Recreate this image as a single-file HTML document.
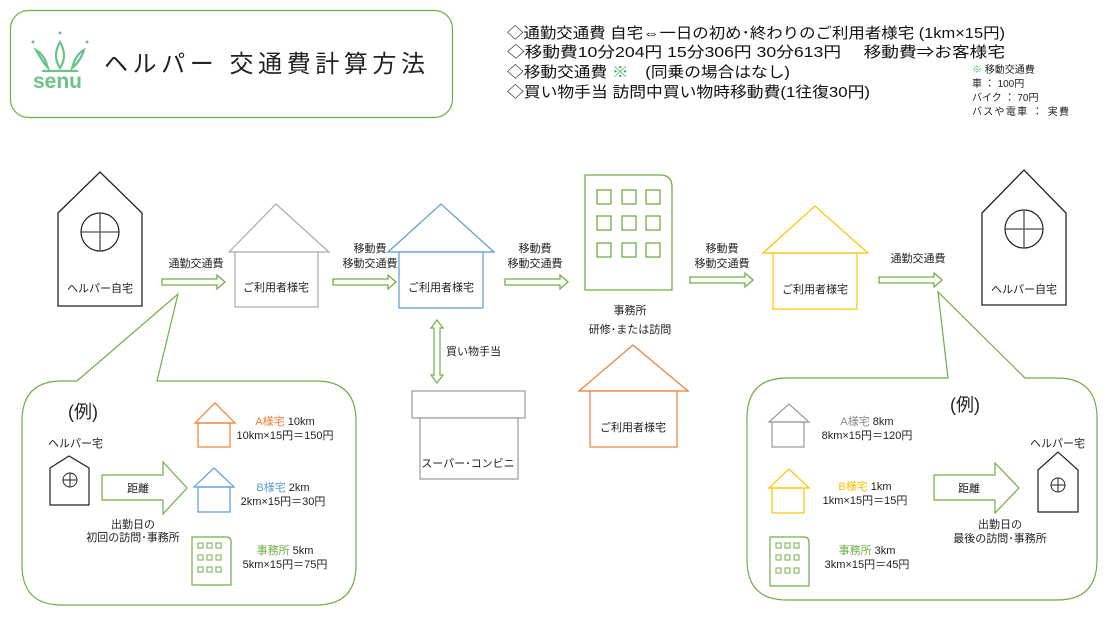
<!DOCTYPE html>
<html><head><meta charset="utf-8"><style>
html,body{margin:0;padding:0;background:#fff;}
svg{display:block;font-family:"Liberation Sans","Noto Sans CJK JP",sans-serif;}
</style></head><body>
<svg width="1115" height="621" viewBox="0 0 1115 621" xmlns="http://www.w3.org/2000/svg">
<defs>
<g id="arr"><path d="M0,-3 H55 V-7 L63,0 L55,7 V3 H0 Z" fill="#fff" stroke="#70ad47" stroke-width="1.3"/></g>
</defs>
<rect x="10.5" y="10.5" width="442" height="107" rx="18" fill="#fff" stroke="#70ad47" stroke-width="1.2"/>
<g stroke="#6cc38a" stroke-width="2.2" fill="none">
<path d="M36,50 Q44,64 48,68 Q44,54 36,50Z"/>
<path d="M60,42 Q52,56 60,68 Q68,56 60,42Z"/>
<path d="M84,50 Q76,54 72,68 Q80,62 84,50Z"/>
<path d="M42,71 H78"/>
</g>
<circle cx="33" cy="42" r="1.5" fill="#6cc38a"/><circle cx="60" cy="33" r="1.5" fill="#6cc38a"/><circle cx="87" cy="42" r="1.5" fill="#6cc38a"/>
<text x="33" y="88" font-size="21" fill="#6cc38a" font-weight="bold">senu</text>
<text x="104" y="72" font-size="24" fill="#222" textLength="321" lengthAdjust="spacing">ヘルパー 交通費計算方法</text>
<g font-size="15" fill="#111">
<text x="507" y="38" textLength="498" lengthAdjust="spacingAndGlyphs">◇通勤交通費 自宅⇔一日の初め･終わりのご利用者様宅 (1km×15円)</text>
<text x="507" y="57" textLength="498" lengthAdjust="spacingAndGlyphs">◇移動費10分204円 15分306円 30分613円　 移動費⇒お客様宅</text>
<text x="507" y="77" textLength="283" lengthAdjust="spacingAndGlyphs">◇移動交通費 <tspan fill="#2db34a">※</tspan>　(同乗の場合はなし)</text>
<text x="507" y="97" textLength="363" lengthAdjust="spacingAndGlyphs">◇買い物手当 訪問中買い物時移動費(1往復30円)</text>
</g>
<g font-size="10" fill="#222">
<text x="972" y="73"><tspan fill="#2db34a">※</tspan> 移動交通費</text>
<text x="972" y="87">車 ： 100円</text>
<text x="972" y="101">バイク ： 70円</text>
<text x="972" y="115" textLength="97">バスや電車 ： 実費</text>
</g>
<g font-size="11" fill="#222" text-anchor="middle">
<path d="M58,213 L100,172 L142,213 V306 H58 Z" fill="#fff" stroke="#222" stroke-width="1.3"/>
<circle cx="100" cy="232" r="19" fill="none" stroke="#222" stroke-width="1.2"/>
<path d="M81,232 H119" stroke="#222"/><path d="M100,213 V251" stroke="#666" stroke-width="1.5"/>
<text x="100" y="292">ヘルパー自宅</text>
<use href="#arr" x="162" y="282"/>
<text x="196" y="267">通勤交通費</text>
<path d="M229,252 L276,204 L329,252 Z" fill="#fff" stroke="#aaa" stroke-width="1.2"/>
<rect x="235" y="252" width="83" height="55" fill="#fff" stroke="#aaa" stroke-width="1.2"/>
<text x="276" y="291">ご利用者様宅</text>
<use href="#arr" x="333" y="282"/>
<text x="370" y="252">移動費</text><text x="370" y="267">移動交通費</text>
<path d="M388,252 L441,204 L494,252 Z" fill="#fff" stroke="#5b9bd5" stroke-width="1.2"/>
<rect x="399" y="252" width="84" height="56" fill="#fff" stroke="#5b9bd5" stroke-width="1.2"/>
<text x="441" y="291">ご利用者様宅</text>
<use href="#arr" x="505" y="282"/>
<text x="535" y="252">移動費</text><text x="535" y="267">移動交通費</text>
<path d="M585,175 H660 Q672,175 672,187 V290 H585 Z" fill="#fff" stroke="#70ad47" stroke-width="1.3"/>
<g fill="none" stroke="#70ad47" stroke-width="1.3">
<rect x="597" y="190" width="14" height="14"/><rect x="622" y="190" width="14" height="14"/><rect x="646" y="190" width="14" height="14"/>
<rect x="597" y="216" width="14" height="14"/><rect x="622" y="216" width="14" height="14"/><rect x="646" y="216" width="14" height="14"/>
<rect x="597" y="243" width="14" height="14"/><rect x="622" y="243" width="14" height="14"/><rect x="646" y="243" width="14" height="14"/>
</g>
<text x="630" y="314">事務所</text><text x="630" y="333">研修･または訪問</text>
<use href="#arr" x="690" y="280"/>
<text x="722" y="252">移動費</text><text x="722" y="267">移動交通費</text>
<path d="M763,253 L815,206 L868,253 Z" fill="#fff" stroke="#ffc000" stroke-width="1.2"/>
<rect x="773" y="253" width="84" height="56" fill="#fff" stroke="#ffc000" stroke-width="1.2"/>
<text x="815" y="293">ご利用者様宅</text>
<use href="#arr" x="879" y="280"/>
<text x="918" y="262">通勤交通費</text>
<path d="M982,213 L1024,170 L1066,213 V305 H982 Z" fill="#fff" stroke="#222" stroke-width="1.3"/>
<circle cx="1024" cy="229" r="19" fill="none" stroke="#222" stroke-width="1.2"/>
<path d="M1005,229 H1043" stroke="#222"/><path d="M1024,210 V248" stroke="#666" stroke-width="1.5"/>
<text x="1024" y="293">ヘルパー自宅</text>
<path d="M437,320 L443,328 H440 V375 H443 L437,383 L431,375 H434 V328 H431 Z" fill="#fff" stroke="#70ad47" stroke-width="1.2"/>
<text x="446" y="355" text-anchor="start">買い物手当</text>
<rect x="412" y="391" width="113" height="27" fill="#fff" stroke="#999" stroke-width="1.2"/>
<rect x="420" y="418" width="98" height="61" fill="#fff" stroke="#999" stroke-width="1.2"/>
<text x="468" y="467">スーパー･コンビニ</text>
<path d="M579,391 L633,345 L688,391 Z" fill="#fff" stroke="#ed7d31" stroke-width="1.2"/>
<rect x="590" y="391" width="87" height="56" fill="#fff" stroke="#ed7d31" stroke-width="1.2"/>
<text x="633" y="431">ご利用者様宅</text>
</g>
<path d="M62,381 H77 L178,294 L157,381 H316 Q356,381 356,421 V565 Q356,605 316,605 H62 Q22,605 22,565 V421 Q22,381 62,381 Z" fill="#fff" stroke="#70ad47" stroke-width="1.2"/>
<path d="M787,378 H948 L938,292 L1025,378 H1057 Q1097,378 1097,418 V560 Q1097,600 1057,600 H787 Q747,600 747,560 V418 Q747,378 787,378 Z" fill="#fff" stroke="#70ad47" stroke-width="1.2"/>
<g font-size="11" fill="#222">
<text x="68" y="418" font-size="18">(例)</text>
<text x="48" y="447">ヘルパー宅</text>
<path d="M50,468 L69,456 L89,468 V505 H50 Z" fill="#fff" stroke="#222" stroke-width="1.2"/>
<circle cx="70" cy="480" r="7" fill="none" stroke="#222"/><path d="M63,480 H77 M70,473 V487" stroke="#222"/>
<path d="M102,475 H163 V462 L187,488 L163,514 V500 H102 Z" fill="#fff" stroke="#70ad47" stroke-width="1.2"/>
<text x="127" y="492">距離</text>
<text x="133" y="528" text-anchor="middle">出勤日の</text>
<text x="133" y="541" text-anchor="middle">初回の訪問･事務所</text>
<path d="M195,423 L215,403 L235,423 Z" fill="#fff" stroke="#ed7d31" stroke-width="1.2"/>
<rect x="198" y="423" width="32" height="24" fill="none" stroke="#ed7d31" stroke-width="1.2"/>
<text x="285" y="425" text-anchor="middle"><tspan fill="#ed7d31">A様宅</tspan> 10km</text>
<text x="285" y="439" text-anchor="middle">10km×15円＝150円</text>
<path d="M194,487 L214,468 L234,487 Z" fill="#fff" stroke="#5b9bd5" stroke-width="1.2"/>
<rect x="198" y="487" width="32" height="25" fill="none" stroke="#5b9bd5" stroke-width="1.2"/>
<text x="283" y="491" text-anchor="middle"><tspan fill="#5b9bd5">B様宅</tspan> 2km</text>
<text x="283" y="505" text-anchor="middle">2km×15円＝30円</text>
<path d="M192,537 H226 Q231,537 231,542 V585 H192 Z" fill="#fff" stroke="#70ad47" stroke-width="1.2"/>
<g fill="none" stroke="#70ad47"><rect x="198" y="543" width="5" height="5"/><rect x="207" y="543" width="5" height="5"/><rect x="216" y="543" width="5" height="5"/><rect x="198" y="555" width="5" height="5"/><rect x="207" y="555" width="5" height="5"/><rect x="216" y="555" width="5" height="5"/><rect x="198" y="567" width="5" height="5"/><rect x="207" y="567" width="5" height="5"/><rect x="216" y="567" width="5" height="5"/></g>
<text x="285" y="554" text-anchor="middle"><tspan fill="#70ad47">事務所</tspan> 5km</text>
<text x="285" y="568" text-anchor="middle">5km×15円＝75円</text>

<text x="950" y="411" font-size="18">(例)</text>
<text x="1030" y="447">ヘルパー宅</text>
<path d="M1038,470 L1058,452 L1078,470 V512 H1038 Z" fill="#fff" stroke="#222" stroke-width="1.2"/>
<circle cx="1058" cy="485" r="7" fill="none" stroke="#222"/><path d="M1051,485 H1065 M1058,478 V492" stroke="#222"/>
<path d="M934,475 H995 V463 L1019,488 L995,513 V500 H934 Z" fill="#fff" stroke="#70ad47" stroke-width="1.2"/>
<text x="958" y="492">距離</text>
<text x="1000" y="528" text-anchor="middle">出勤日の</text>
<text x="1000" y="542" text-anchor="middle">最後の訪問･事務所</text>
<path d="M769,422 L789,404 L809,422 Z" fill="#fff" stroke="#999" stroke-width="1.2"/>
<rect x="772" y="422" width="32" height="25" fill="none" stroke="#999" stroke-width="1.2"/>
<text x="867" y="425" text-anchor="middle"><tspan fill="#888">A様宅</tspan> 8km</text>
<text x="867" y="439" text-anchor="middle">8km×15円＝120円</text>
<path d="M769,488 L789,469 L809,488 Z" fill="#fff" stroke="#ffc000" stroke-width="1.2"/>
<rect x="772" y="488" width="32" height="25" fill="none" stroke="#ffc000" stroke-width="1.2"/>
<text x="865" y="490" text-anchor="middle"><tspan fill="#ffc000">B様宅</tspan> 1km</text>
<text x="865" y="504" text-anchor="middle">1km×15円＝15円</text>
<path d="M770,537 H804 Q809,537 809,542 V586 H770 Z" fill="#fff" stroke="#70ad47" stroke-width="1.2"/>
<g fill="none" stroke="#70ad47"><rect x="776" y="543" width="5" height="5"/><rect x="785" y="543" width="5" height="5"/><rect x="794" y="543" width="5" height="5"/><rect x="776" y="555" width="5" height="5"/><rect x="785" y="555" width="5" height="5"/><rect x="794" y="555" width="5" height="5"/><rect x="776" y="568" width="5" height="5"/><rect x="785" y="568" width="5" height="5"/><rect x="794" y="568" width="5" height="5"/></g>
<text x="867" y="554" text-anchor="middle"><tspan fill="#70ad47">事務所</tspan> 3km</text>
<text x="867" y="568" text-anchor="middle">3km×15円＝45円</text>
</g>
</svg>
</body></html>
